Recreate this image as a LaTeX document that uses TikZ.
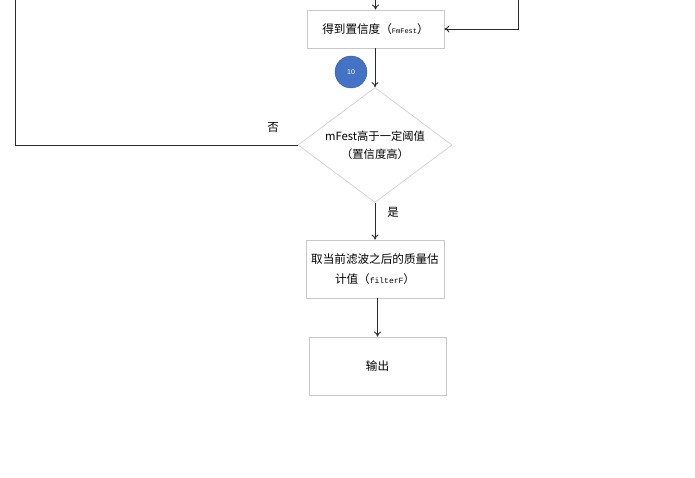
\documentclass[tikz,border=0pt]{standalone}
\usepackage{fontspec}
\setmainfont{Noto Sans CJK SC}
\newfontfamily\monof{Liberation Mono}
\newfontfamily\latinf{Liberation Sans}
\usetikzlibrary{shapes.geometric,arrows.meta}
\definecolor{boxgray}{HTML}{C8C8C8}
\definecolor{linegray}{HTML}{2A2A2A}
\definecolor{circblue}{HTML}{4472C4}
\begin{document}
\begin{tikzpicture}[x=1pt,y=-1pt,
  procbox/.style={draw=boxgray,line width=0.8pt,rectangle,inner sep=0pt,align=center,font=\fontsize{11.6pt}{20pt}\selectfont},
  arr/.style={draw=linegray,line width=0.9pt,-{To[length=5pt,width=7pt]}},
  conn/.style={draw=linegray,line width=0.9pt},
  lbl/.style={font=\fontsize{11.5pt}{13pt}\selectfont,inner sep=0pt}]
\useasboundingbox (0,0) rectangle (695,478);
\fill[white] (0,0) rectangle (695,478);
\node[procbox,minimum width=137pt,minimum height=38pt] (box1) at (375.5,29) {得到置信度（{\monof\fontsize{7pt}{8pt}\selectfont FmFest}）};
\node[draw=boxgray!85,line width=0.7pt,diamond,aspect=1.34,minimum width=154pt,minimum height=115pt,inner sep=0pt,align=center,font=\fontsize{11.3pt}{18pt}\selectfont] (dia) at (375,145) {mFest高于一定阈值\\（置信度高）};
\node[procbox,minimum width=138pt,minimum height=58pt] (box2) at (375,269) {取当前滤波之后的质量估\\计值（{\monof\fontsize{8pt}{9pt}\selectfont filterF}）};
\node[procbox,minimum width=137pt,minimum height=58pt] (box3) at (377.5,366) {输出};
\node[circle,fill=circblue,draw=circblue!80!black,line width=0.4pt,minimum size=32pt,inner sep=0pt,text=white,font=\latinf\fontsize{7pt}{8pt}\selectfont] (c10) at (351,72) {10};
\coordinate (in1) at (375.5,0);
\coordinate (r1) at (518,0);
\coordinate (l1) at (15,0);
\draw[arr] (in1) -- (box1.north);
\draw[arr] (r1) |- (box1.east);
\draw[arr] (box1.south -| dia.north) -- (dia.north);
\draw[conn] (dia.west) -| (l1);
\node[lbl] (no) at (273,127) {否};
\draw[arr] (dia.south) -- (box2.north);
\node[lbl] (yes) at (393,212) {是};
\draw[arr] (box2.south -| box3.north) -- (box3.north);
\end{tikzpicture}
\end{document}
